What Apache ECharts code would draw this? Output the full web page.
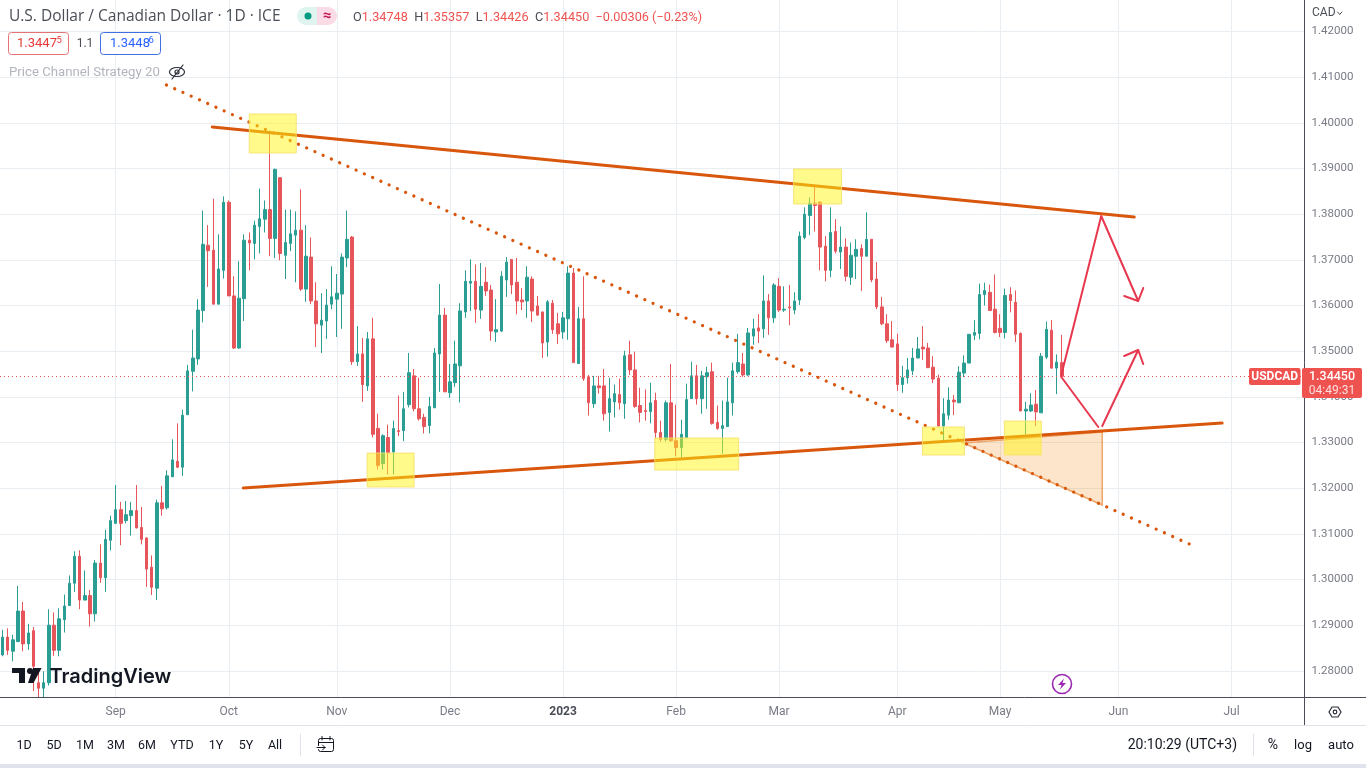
<!DOCTYPE html>
<html>
<head>
<meta charset="utf-8">
<title>USDCAD</title>
<script src="https://cdn.jsdelivr.net/npm/echarts@6/dist/echarts.min.js"></script>
<style>
html,body{margin:0;padding:0;background:#fff;}
#chart{width:1366px;height:768px;}
</style>
</head>
<body>
<div id="chart"></div>
<script>
var opens = [
	1.2835,1.2874,1.2843,1.2864,1.2931,1.2859,1.2888,1.2774,1.2762,1.2774,
	1.2900,1.2845,1.2912,1.2943,1.2992,1.3051,1.2955,1.2965,1.2925,1.3036,
	1.3004,1.3086,1.3123,1.3153,1.3129,1.3140,1.3151,1.3114,1.3091,1.3027,
	1.2981,1.3168,1.3157,1.3225,1.3259,1.3246,1.3361,1.3456,1.3483,1.3589,
	1.3732,1.3721,1.3603,1.3677,1.3826,1.3621,1.3507,1.3615,1.3743,1.3736,
	1.3773,1.3789,1.3810,1.3747,1.3880,1.3710,1.3736,1.3754,1.3765,1.3636,
	1.3706,1.3610,1.3557,1.3566,1.3603,1.3614,1.3625,1.3704,1.3750,1.3477,
	1.3494,1.3424,1.3527,1.3331,1.3254,1.3311,1.3279,1.3326,1.3326,1.3383,
	1.3446,1.3374,1.3355,1.3337,1.3376,1.3494,1.3579,1.3409,1.3431,1.3468,
	1.3586,1.3649,1.3653,1.3590,1.3651,1.3634,1.3542,1.3544,1.3656,1.3701,
	1.3651,1.3612,1.3610,1.3658,1.3599,1.3586,1.3520,1.3605,1.3560,1.3542,
	1.3571,1.3671,1.3473,1.3571,1.3444,1.3385,1.3424,1.3424,1.3366,1.3389,
	1.3405,1.3385,1.3492,1.3459,1.3381,1.3370,1.3368,1.3392,1.3322,1.3307,
	1.3387,1.3304,1.3289,1.3311,1.3396,1.3446,1.3396,1.3444,1.3455,1.3344,
	1.3331,1.3335,1.3387,1.3455,1.3472,1.3448,1.3533,1.3551,1.3549,1.3610,
	1.3573,1.3642,1.3590,1.3597,1.3590,1.3612,1.3749,1.3797,1.3824,1.3826,
	1.3730,1.3677,1.3762,1.3717,1.3728,1.3662,1.3708,1.3725,1.3708,1.3745,
	1.3658,1.3597,1.3560,1.3525,1.3516,1.3427,1.3442,1.3457,1.3485,1.3509,
	1.3507,1.3465,1.3441,1.3336,1.3360,1.3393,1.3387,1.3452,1.3474,1.3535,
	1.3539,1.3624,1.3629,1.3592,1.3550,1.3541,1.3624,1.3607,1.3539,1.3369,
	1.3369,1.3384,1.3365,1.3487,1.3546,1.3463,1.34748
];
var closes = [
	1.2874,1.2845,1.2868,1.2931,1.2859,1.2883,1.2810,1.2762,1.2774,1.2900,
	1.2845,1.2914,1.2942,1.2992,1.3051,1.2955,1.2965,1.2925,1.3036,1.3004,
	1.3088,1.3129,1.3153,1.3123,1.3142,1.3151,1.3113,1.3088,1.3023,1.2983,
	1.3168,1.3155,1.3227,1.3262,1.3246,1.3360,1.3457,1.3485,1.3590,1.3734,
	1.3720,1.3603,1.3680,1.3826,1.3621,1.3507,1.3616,1.3743,1.3737,1.3776,
	1.3790,1.3810,1.3747,1.3898,1.3714,1.3738,1.3757,1.3765,1.3636,1.3708,
	1.3610,1.3560,1.3568,1.3601,1.3619,1.3627,1.3706,1.3745,1.3477,1.3494,
	1.3427,1.3527,1.3318,1.3250,1.3315,1.3278,1.3331,1.3324,1.3374,1.3453,
	1.3374,1.3352,1.3335,1.3379,1.3496,1.3579,1.3411,1.3433,1.3472,1.3588,
	1.3653,1.3653,1.3592,1.3642,1.3632,1.3544,1.3547,1.3664,1.3695,1.3645,
	1.3610,1.3608,1.3662,1.3588,1.3579,1.3518,1.3608,1.3547,1.3538,1.3573,
	1.3671,1.3475,1.3571,1.3440,1.3387,1.3424,1.3420,1.3363,1.3396,1.3407,
	1.3387,1.3490,1.3459,1.3379,1.3366,1.3368,1.3387,1.3322,1.3307,1.3387,
	1.3304,1.3289,1.3318,1.3394,1.3446,1.3396,1.3446,1.3453,1.3342,1.3331,
	1.3337,1.3389,1.3457,1.3475,1.3448,1.3540,1.3549,1.3544,1.3610,1.3573,
	1.3645,1.3590,1.3592,1.3595,1.3610,1.3752,1.3800,1.3824,1.3819,1.3728,
	1.3677,1.3760,1.3719,1.3728,1.3664,1.3710,1.3723,1.3708,1.3745,1.3656,
	1.3597,1.3560,1.3523,1.3509,1.3427,1.3442,1.3459,1.3485,1.3505,1.3505,
	1.3464,1.3439,1.3336,1.3363,1.3393,1.3389,1.3454,1.3474,1.3537,1.3541,
	1.3624,1.3633,1.3589,1.3541,1.3541,1.3622,1.3611,1.3537,1.3369,1.3373,
	1.3382,1.3367,1.3489,1.3548,1.3463,1.3476,1.34450
];
var lows = [
	1.2832,1.2835,1.2821,1.2864,1.2843,1.2846,1.2756,1.2741,1.2741,1.2768,
	1.2833,1.2832,1.2884,1.2943,1.2973,1.2935,1.2955,1.2897,1.2908,1.2993,
	1.2973,1.3064,1.3123,1.3075,1.3123,1.3096,1.3112,1.3077,1.2984,1.2966,
	1.2955,1.3140,1.3153,1.3225,1.3244,1.3227,1.3360,1.3412,1.3470,1.3563,
	1.3641,1.3603,1.3603,1.3659,1.3621,1.3505,1.3505,1.3566,1.3677,1.3701,
	1.3714,1.3760,1.3708,1.3704,1.3699,1.3658,1.3719,1.3651,1.3632,1.3608,
	1.3603,1.3509,1.3496,1.3527,1.3592,1.3531,1.3549,1.3684,1.3470,1.3468,
	1.3389,1.3413,1.3311,1.3241,1.3241,1.3230,1.3230,1.3314,1.3303,1.3377,
	1.3368,1.3348,1.3320,1.3320,1.3376,1.3411,1.3411,1.3398,1.3422,1.3388,
	1.3573,1.3588,1.3562,1.3571,1.3621,1.3523,1.3520,1.3542,1.3619,1.3625,
	1.3581,1.3590,1.3573,1.3564,1.3577,1.3485,1.3488,1.3538,1.3516,1.3527,
	1.3525,1.3475,1.3472,1.3435,1.3359,1.3376,1.3407,1.3348,1.3324,1.3355,
	1.3372,1.3352,1.3448,1.3376,1.3344,1.3348,1.3342,1.3309,1.3302,1.3302,
	1.3302,1.3270,1.3265,1.3311,1.3396,1.3383,1.3363,1.3374,1.3339,1.3328,
	1.3276,1.3335,1.3359,1.3451,1.3444,1.3446,1.3514,1.3518,1.3529,1.3536,
	1.3562,1.3586,1.3586,1.3557,1.3581,1.3601,1.3745,1.3754,1.3762,1.3677,
	1.3653,1.3662,1.3714,1.3680,1.3653,1.3645,1.3658,1.3632,1.3708,1.3651,
	1.3592,1.3557,1.3518,1.3509,1.3413,1.3409,1.3429,1.3448,1.3485,1.3481,
	1.3463,1.3430,1.3335,1.3304,1.3350,1.3360,1.3387,1.3443,1.3474,1.3524,
	1.3526,1.3600,1.3589,1.3539,1.3531,1.3528,1.3585,1.3520,1.3369,1.3317,
	1.3367,1.3336,1.3365,1.3483,1.3461,1.3406,1.34426
];
var highs = [
	1.2890,1.2893,1.2879,1.2986,1.2951,1.2903,1.2896,1.2796,1.2799,1.2935,
	1.2928,1.2937,1.2967,1.3009,1.3062,1.3064,1.3020,1.2977,1.3043,1.3077,
	1.3109,1.3140,1.3207,1.3170,1.3172,1.3170,1.3207,1.3159,1.3092,1.3053,
	1.3175,1.3205,1.3239,1.3307,1.3342,1.3372,1.3470,1.3547,1.3614,1.3808,
	1.3776,1.3834,1.3756,1.3839,1.3830,1.3664,1.3697,1.3756,1.3760,1.3786,
	1.3856,1.3830,1.3983,1.3900,1.3880,1.3810,1.3810,1.3806,1.3854,1.3776,
	1.3749,1.3651,1.3627,1.3636,1.3686,1.3669,1.3714,1.3808,1.3752,1.3555,
	1.3529,1.3542,1.3573,1.3363,1.3318,1.3339,1.3348,1.3403,1.3411,1.3496,
	1.3461,1.3442,1.3363,1.3400,1.3507,1.3647,1.3595,1.3472,1.3523,1.3605,
	1.3677,1.3701,1.3690,1.3693,1.3684,1.3645,1.3614,1.3675,1.3706,1.3701,
	1.3704,1.3638,1.3686,1.3664,1.3621,1.3586,1.3612,1.3612,1.3584,1.3586,
	1.3686,1.3682,1.3597,1.3664,1.3448,1.3446,1.3446,1.3461,1.3442,1.3427,
	1.3440,1.3501,1.3523,1.3499,1.3420,1.3416,1.3431,1.3409,1.3348,1.3392,
	1.3472,1.3383,1.3350,1.3429,1.3477,1.3470,1.3457,1.3466,1.3475,1.3381,
	1.3392,1.3442,1.3475,1.3538,1.3496,1.3551,1.3571,1.3581,1.3666,1.3625,
	1.3649,1.3660,1.3642,1.3645,1.3629,1.3762,1.3815,1.3837,1.3863,1.3828,
	1.3752,1.3815,1.3789,1.3773,1.3747,1.3738,1.3745,1.3734,1.3804,1.3745,
	1.3695,1.3619,1.3581,1.3566,1.3538,1.3468,1.3485,1.3507,1.3531,1.3555,
	1.3518,1.3489,1.3449,1.3397,1.3421,1.3404,1.3467,1.3491,1.3537,1.3568,
	1.3648,1.3650,1.3646,1.3668,1.3581,1.3637,1.3640,1.3633,1.3541,1.3389,
	1.3408,1.3415,1.3496,1.3565,1.3568,1.3493,1.35357
];
var lastPrice = 1.3445;
var priceTicks = [1.28,1.29,1.30,1.31,1.32,1.33,1.34,1.35,1.36,1.37,1.38,1.39,1.40,1.41,1.42];
var monthBars = [22,44,65,87,109,131,151,174,194,217,239];
var monthNames = ['Sep','Oct','Nov','Dec','2023','Feb','Mar','Apr','May','Jun','Jul'];
var rangeNames = ['1D','5D','1M','3M','6M','YTD','1Y','5Y','All'];

// drawings, in [bar position, price]
var upperTrend = [[41.29,1.39909],[220.59,1.37938]];
var lowerTrend = [[47.31,1.32004],[237.68,1.33428]];
var dottedTrend = [[32.36,1.40829],[232.62,1.30712]];
var wedgeFill = [[187.37,1.32990],[214.37,1.33230],[214.37,1.31632]];
var zoneBoxes = [
	[48.48,57.61,1.40194,1.39340],
	[71.40,80.53,1.32770,1.32026],
	[127.34,143.66,1.33099,1.32398],
	[154.35,163.67,1.38989,1.38223],
	[179.40,187.56,1.33340,1.32727],
	[195.33,202.52,1.33471,1.32727]
];
var arrowDown = [[206.41,1.34435],[213.60,1.33340]];
var arrowUp = [[214.37,1.33362],[221.36,1.35026]];
var arrowUpHead = [[218.64,1.34895],[221.36,1.35026],[222.34,1.34720]];
var arrowPeak = [[206.41,1.34479],[214.17,1.37960],[221.36,1.36099]];
var arrowPeakHead = [[218.64,1.36208],[221.36,1.36099],[222.34,1.36383]];

// weekday axis, 254 slots from 2 Aug 2022
var barCount = 254;
var dates = [];
var day = new Date(Date.UTC(2022,7,2));
while(dates.length < barCount){
	if(day.getUTCDay() != 0 && day.getUTCDay() != 6)
		dates.push(day.toISOString().slice(0,10));
	day = new Date(day.getTime()+86400000);
}

var candles = [];
for(var i=0;i<opens.length;i++){
	candles.push([opens[i],closes[i],lows[i],highs[i]]);
}

var UP = '#2b9e93',DOWN = '#e6555a',TAG = '#ef5350',ORANGE = '#d9570c',ARROW = '#e8384f';
var GRID = '#e8eef1',FONT = 'Roboto,"Noto Sans",sans-serif',WIDE = '"Open Sans",Roboto,sans-serif';

function lineSeries(points,width,color,type,cap){
	return {
		type:'line',
		xAxisIndex:1,
		yAxisIndex:0,
		data:points,
		showSymbol:false,
		silent:true,
		z:6,
		lineStyle:{width:width,color:color,type:type || 'solid',cap:cap || 'round',join:'round'}
	};
}
function polygonSeries(polygons,fill,stroke,strokeWidth,z){
	return {
		type:'custom',
		xAxisIndex:1,
		yAxisIndex:0,
		silent:true,
		z:z,
		data:polygons.map(function(p,idx){return [idx];}),
		renderItem:function(params,api){
			var pts = polygons[params.dataIndex].map(function(pt){return api.coord(pt);});
			return {
				type:'polygon',
				shape:{points:pts},
				style:{fill:fill,stroke:stroke,lineWidth:strokeWidth}
			};
		}
	};
}
var boxPolygons = zoneBoxes.map(function(b){
	return [[b[0],b[2]],[b[1],b[2]],[b[1],b[3]],[b[0],b[3]]];
});

// chrome helpers
var items = [];
function text(x,y,str,color,size,align,extra){
	var style = {x:x,y:y,text:str,fill:color,fontSize:size,fontFamily:FONT,align:align || 'left',verticalAlign:'middle'};
	for(var k in (extra || {})) style[k] = extra[k];
	items.push({type:'text',z:100,silent:true,style:style});
}
function hline(x1,y1,x2,y2,color,w){
	items.push({type:'line',z:100,silent:true,shape:{x1:x1,y1:y1,x2:x2,y2:y2},style:{stroke:color,lineWidth:w || 1,lineCap:'round'}});
}
function box(x,y,w,h,fill,stroke,r){
	items.push({type:'rect',z:100,silent:true,shape:{x:x,y:y,width:w,height:h,r:r || 0},style:{fill:fill,stroke:stroke || null,lineWidth:1}});
}
function poly(points,fill,stroke,w){
	items.push({type:'polygon',z:100,silent:true,shape:{points:points},style:{fill:fill || null,stroke:stroke || null,lineWidth:w || 1}});
}
function circle(cx,cy,r,fill,stroke,w){
	items.push({type:'circle',z:100,silent:true,shape:{cx:cx,cy:cy,r:r},style:{fill:fill || null,stroke:stroke || null,lineWidth:w || 1}});
}

// scale frame
box(1304.5,0,2,697,'#fff');
hline(0,697.5,1366,697.5,'#4a4d55',1);
hline(1304.5,0,1304.5,725,'#4a4d55',1);
hline(0,725.5,1366,725.5,'#e0e3eb',1);
box(0,764,1366,4,'#e0e3eb');

// header
text(9,17,'U.S. Dollar / Canadian Dollar · 1D · ICE','#4a4d55',15.5,'left',{fontFamily:WIDE});
box(297,7,20,18,'#dff3ef',null,[9,0,0,9]);
box(317,7,20,18,'#fbdce6',null,[0,9,9,0]);
circle(308,16,3.5,'#089981');
text(327,16,'≈','#c2185b',15,'center',{fontWeight:'bold'});
text(353,17.5,'{k|O}{v|1.34748}  {k|H}{v|1.35357}  {k|L}{v|1.34426}  {k|C}{v|1.34450}  {v|−0.00306 (−0.23%)}',TAG,12.7,'left',{
	rich:{k:{fill:'#4a4d55',fontSize:12.7,fontFamily:FONT},v:{fill:TAG,fontSize:12.7,fontFamily:FONT}}
});
box(8.5,32.5,60,22,'#fff','#e57373',3);
text(17,44,'1.3447','#e53935',13);
text(56.5,41,'5','#e53935',9.5);
box(100.5,32.5,60,22,'#fff','#3f6fe0',3);
text(110,44,'1.3448','#2962ff',13);
text(148.5,41,'6','#2962ff',9.5);
text(85,44,'1.1','#4a4d55',12,'center');
text(9,72.5,'Price Channel Strategy 20','#b2b5be',13.2);
items.push({type:'ellipse',z:100,silent:true,shape:{cx:177,cy:72,rx:7.5,ry:4.5},style:{fill:null,stroke:'#2a2e39',lineWidth:1.2}});
circle(177,72,2,null,'#2a2e39',1.2);
hline(172,79,183,65,'#2a2e39',1.2);

// price scale
text(1312,13,'CAD','#4a4d55',12);
hline(1337.5,12,1339.7,14.3,'#4a4d55',1);
hline(1339.7,14.3,1342,12,'#4a4d55',1);
box(1249,368,51.5,17,TAG,null,2);
text(1274.7,377,'USDCAD','#fff',12,'center',{fontWeight:'bold'});
box(1302,368,60,30,TAG,null,2);
text(1332,376.5,'1.34450','#fff',12.5,'center',{fontWeight:'500'});
text(1332,391,'04:49:31','#fde0e0',12,'center');

// logo
box(12,668,13,5,'#131722');
box(19,668,6,15,'#131722');
circle(30,671,3,'#131722');
poly([[33,668],[41.6,668],[33.5,683],[28,683]],'#131722');
text(49.5,676.5,'TradingView','#131722',20,'left',{fontFamily:'Inter,Roboto,sans-serif',fontWeight:'600'});

// bolt
circle(1062,684,9.5,null,'#9c27b0',1.6);
poly([[1064,678.5],[1058,685],[1061.5,685],[1060,689.5],[1066,683],[1062.5,683]],'#9c27b0');

// settings
poly([[1329,712],[1332,707],[1338,707],[1341,712],[1338,717],[1332,717]],null,'#2a2e39',1.2);
circle(1335,712,1.8,null,'#2a2e39',1.2);

// range bar
var rangeCentres = [24,54,85,116,147,182,216,246,275];
for(var r=0;r<rangeNames.length;r++){
	text(rangeCentres[r],745.5,rangeNames[r],'#131722',12.5,'center');
}
hline(300.5,734,300.5,756,'#e0e3eb',1);
box(318.5,738.5,15,13,null,'#131722',2);
hline(318.5,742.5,333.5,742.5,'#131722',1);
hline(322,736.5,322,740,'#131722',1);
hline(330,736.5,330,740,'#131722',1);
box(316,746,8,3,'#fff');
hline(317,747.5,325,747.5,'#131722',1);
hline(322.5,745,325,747.5,'#131722',1);
hline(322.5,750,325,747.5,'#131722',1);
text(1237,745.5,'20:10:29 (UTC+3)','#131722',14,'right');
hline(1253.5,734,1253.5,756,'#e0e3eb',1);
text(1273,745.5,'%','#131722',14,'center');
text(1303,745.5,'log','#131722',13,'center');
text(1341,745.5,'auto','#131722',13,'center');

var myChart = echarts.init(document.getElementById('chart'));
var option = {
	animation:false,
	backgroundColor:'#fff',
	grid:{left:-1.57,top:0,width:1307.6,height:697,containLabel:false},
	xAxis:[{
		type:'category',
		data:dates,
		show:false
	},{
		// same extent as the bars, carries month grid and labels
		type:'value',
		position:'bottom',
		min:0,
		max:barCount,
		axisLine:{show:false},
		axisTick:{show:false,customValues:monthBars.map(function(b){return b+0.5;})},
		splitLine:{show:true,lineStyle:{color:GRID,width:1}},
		axisLabel:{
			customValues:monthBars.map(function(b){return b+0.5;}),
			margin:9,
			color:'#787b86',
			fontSize:12,
			fontFamily:FONT,
			formatter:function(val){
				var name = monthNames[monthBars.indexOf(Math.round(val-0.5))];
				return name == '2023' ? '{y|2023}' : name;
			},
			rich:{y:{fontWeight:'bold',color:'#4a4d55',fontSize:12,fontFamily:FONT}}
		}
	}],
	yAxis:{
		type:'value',
		position:'right',
		min:1.27428,
		max:1.42690,
		axisLine:{show:false},
		axisTick:{show:false,customValues:priceTicks},
		splitLine:{show:true,lineStyle:{color:GRID,width:1}},
		axisLabel:{
			customValues:priceTicks,
			margin:5.5,
			padding:[2,0,0,0],
			color:'#787b86',
			fontSize:11.5,
			fontFamily:FONT,
			formatter:function(val){return val.toFixed(5);}
		}
	},
	series:[{
		type:'candlestick',
		xAxisIndex:0,
		yAxisIndex:0,
		data:candles,
		barWidth:3,
		silent:true,
		z:3,
		itemStyle:{color:UP,color0:DOWN,borderColor:UP,borderColor0:DOWN,borderWidth:1},
		markLine:{
			silent:true,
			symbol:'none',
			precision:5,
			label:{show:false},
			lineStyle:{color:TAG,type:[1,3],width:1},
			data:[{yAxis:lastPrice,lineStyle:{color:TAG,type:[1,3],width:1}}]
		}
	},
	polygonSeries([wedgeFill],'rgba(245,124,0,0.2)','rgba(232,140,60,0.75)',1.5,4),
	lineSeries(upperTrend,3,ORANGE),
	lineSeries(lowerTrend,3,ORANGE),
	lineSeries(dottedTrend,3.2,ORANGE,[0.1,8.94],'round'),
	lineSeries(arrowDown,2,ARROW),
	lineSeries(arrowUp,2,ARROW),
	lineSeries(arrowUpHead,2,ARROW),
	lineSeries(arrowPeak,2,ARROW),
	lineSeries(arrowPeakHead,2,ARROW),
	polygonSeries(boxPolygons,'rgba(255,245,20,0.5)','rgba(245,225,110,0.9)',1,8)
	],
	graphic:{elements:items}
};
if (option && typeof option === "object") {
	myChart.setOption(option, true);
}
</script>
</body>
</html>
